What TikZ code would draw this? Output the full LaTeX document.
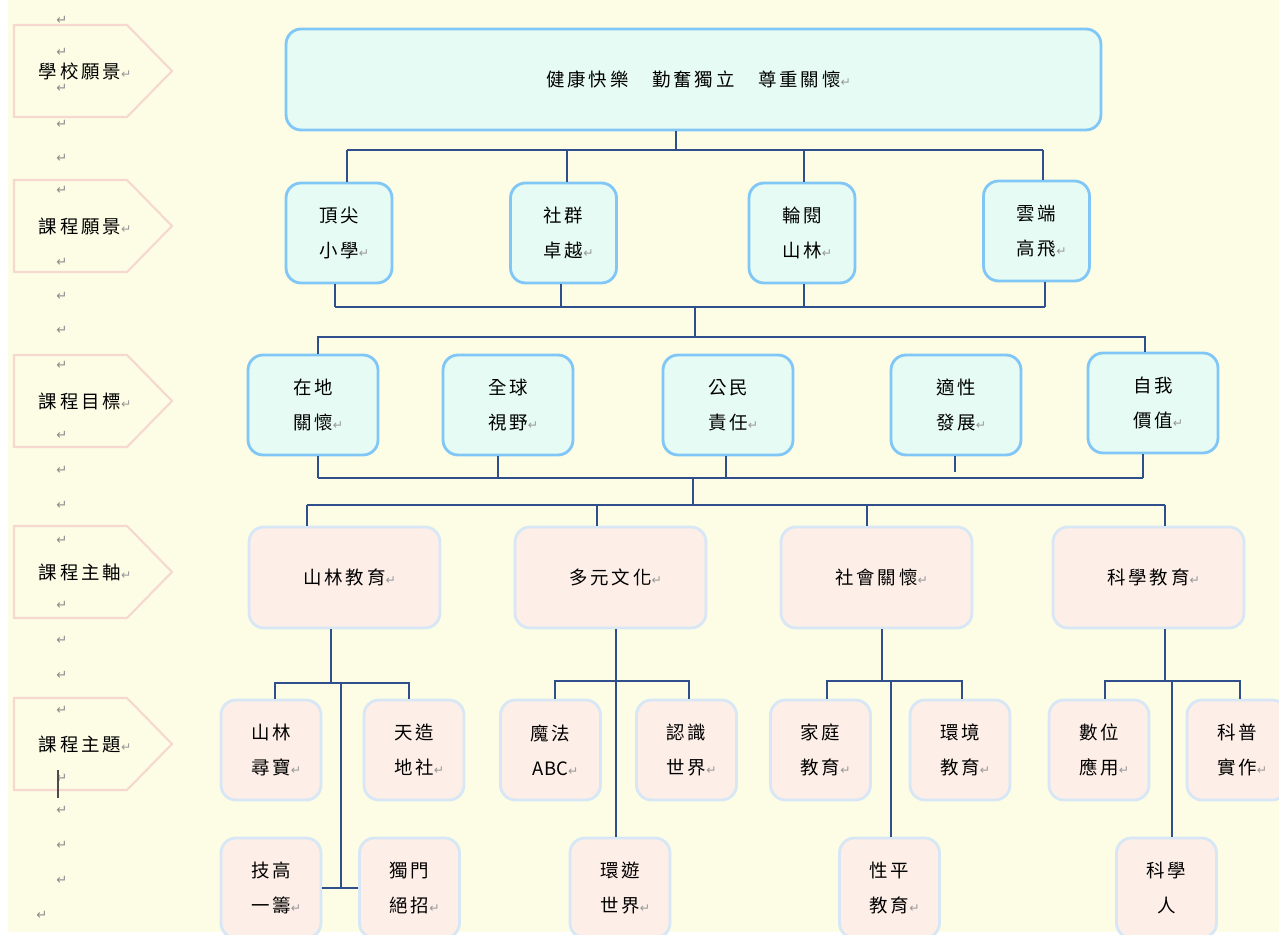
\documentclass[tikz,border=0pt]{standalone}
\usepackage{fontspec}
\usepackage{tikz}
\usetikzlibrary{positioning}
\newfontfamily\cjk[LetterSpace=15]{Noto Sans CJK TC}
\newfontfamily\cjkplain{Noto Sans CJK TC}
\newfontfamily\symfont{DejaVu Sans}
\definecolor{paper}{HTML}{FCFDE4}
\definecolor{linkblue}{HTML}{2F4F8C}
\definecolor{skyedge}{HTML}{80C6F6}
\definecolor{mintfill}{HTML}{E6FBF3}
\definecolor{paleedge}{HTML}{D8E7F6}
\definecolor{pinkfill}{HTML}{FDEEE7}
\definecolor{stageedge}{HTML}{F6D8D0}
\newcommand\pmark{\rlap{\symfont\fontsize{7}{7}\selectfont\color{gray!80}↵}}
\tikzset{
  goal/.style={draw=skyedge, fill=mintfill, line width=1.6pt, rounded corners=0.3cm,
    align=center, font=\cjk\fontsize{10.5}{20}\selectfont},
  theme/.style={draw=paleedge, fill=pinkfill, line width=1.6pt, rounded corners=0.3cm,
    align=center, font=\cjk\fontsize{10.5}{20}\selectfont},
  vbox/.style={goal, minimum width=2.12cm, minimum height=2cm},
  obox/.style={goal, minimum width=2.6cm, minimum height=2cm},
  abox/.style={theme, minimum width=3.82cm, minimum height=2.02cm},
  tbox/.style={theme, minimum width=2cm, minimum height=2cm},
  stage/.style={draw=stageedge, line width=1.2pt},
  stagetext/.style={font=\cjk\fontsize{10.5}{20}\selectfont, inner sep=0pt},
  parmark/.style={font=\symfont\fontsize{7.5}{7.5}\selectfont, text=gray!90, inner sep=0pt},
  link/.style={draw=linkblue, line width=1pt},
}
\begin{document}
\begin{tikzpicture}[x=0.02cm,y=-0.02cm]
\clip (0,0) rectangle (1279,935);
\fill[white] (0,0) rectangle (1279,935);
\fill[paper] (8,0) rectangle (1279,932);

% left column
\foreach \y/\lbl [count=\i] in {25/學校願景,180/課程願景,355/課程目標,526/課程主軸,698/課程主題}{
  \draw[stage] (14,\y) -- ++(113,0) -- ++(45,46) -- ++(-45,46) -- ++(-113,0) -- cycle;
  \node[stagetext] (stage\i) at (80,\y+46) {\lbl\pmark};
}
\foreach \y [count=\k] in {20,52,88,124,158,190,262,296,330,365,435,470,505,540,605,640,675,710,778,810,845,880}
  \node[parmark] (pm\k) at (62,\y) {↵};
\node[parmark] (pmlast) at (42,915) {↵};
\draw[black!70, line width=0.6pt] (58,770) -- (58,798);

% school vision
\node[goal, minimum width=16.3cm, minimum height=2.02cm] (vision) at (693.5,79.5)
  {健康快樂　勤奮獨立　尊重關懷\pmark};

% course visions
\node[vbox] (v1) at (339,233) {頂尖\\小學\pmark};
\node[vbox] (v2) at (563.5,233) {社群\\卓越\pmark};
\node[vbox] (v3) at (802,233) {輪閱\\山林\pmark};
\node[vbox] (v4) at (1036.5,231) {雲端\\高飛\pmark};

% course goals
\node[obox] (g1) at (313,405) {在地\\關懷\pmark};
\node[obox] (g2) at (508,405) {全球\\視野\pmark};
\node[obox] (g3) at (728,405) {公民\\責任\pmark};
\node[obox] (g4) at (956,405) {適性\\發展\pmark};
\node[obox] (g5) at (1153,403) {自我\\價值\pmark};

% course axes
\node[abox] (a1) at (344.5,577.5) {山林教育\pmark};
\node[abox] (a2) at (610.5,577.5) {多元文化\pmark};
\node[abox] (a3) at (876.5,577.5) {社會關懷\pmark};
\node[abox] (a4) at (1148.5,577.5) {科學教育\pmark};

% course themes
\node[tbox] (m1) at (271,750) {山林\\尋寶\pmark};
\node[tbox] (m2) at (414,750) {天造\\地社\pmark};
\node[tbox] (m3) at (271,888) {技高\\一籌\pmark};
\node[tbox] (m4) at (409.5,888) {獨門\\絕招\pmark};
\node[tbox] (c1) at (550.5,750) {魔法\\{\cjkplain ABC}\pmark};
\node[tbox] (c2) at (686.5,750) {認識\\世界\pmark};
\node[tbox] (c3) at (620,888) {環遊\\世界\pmark};
\node[tbox] (h1) at (820.5,750) {家庭\\教育\pmark};
\node[tbox] (h2) at (960,750) {環境\\教育\pmark};
\node[tbox] (h3) at (889.5,888) {性平\\教育\pmark};
\node[tbox] (k1) at (1099,750) {數位\\應用\pmark};
\node[tbox] (k2) at (1237,750) {科普\\實作\pmark};
\node[tbox] (k3) at (1166.5,888) {科學\\人};

% vision -> course visions
\path (676,150) coordinate (p0) (347,150) coordinate (p1) (567,150) coordinate (p2)
      (804,150) coordinate (p3) (1043,150) coordinate (p4);
\draw[link] (p0 |- vision.south) -- (p0);
\draw[link] (p1) -- (p4);
\foreach \i in {1,...,4}
  \draw[link] (p\i) -- (p\i |- v\i.north);

% course visions -> goals
\path (695,307) coordinate (q0) (335,307) coordinate (q1) (561,307) coordinate (q2)
      (804,307) coordinate (q3) (1045,307) coordinate (q4);
\draw[link] (q1) -- (q4);
\foreach \i in {1,...,4}
  \draw[link] (q\i) -- (q\i |- v\i.south);
\path (695,337) coordinate (r0) (318,337) coordinate (r1) (1145,337) coordinate (r5);
\draw[link] (q0) -- (r0);
\draw[link] (r1 |- g1.north) -- (r1) -- (r5) -- (r5 |- g5.north);

% goals -> axes
\path (693,478) coordinate (s0) (318,478) coordinate (s1) (498,478) coordinate (s2)
      (726,478) coordinate (s3) (955,472) coordinate (s4) (1143,478) coordinate (s5);
\draw[link] (s1) -- (s5);
\foreach \i in {1,...,5}
  \draw[link] (s\i) -- (s\i |- g\i.south);
\path (693,505) coordinate (t0) (307,505) coordinate (t1) (597,505) coordinate (t2)
      (867,505) coordinate (t3) (1165,505) coordinate (t4);
\draw[link] (s0) -- (t0);
\draw[link] (t1) -- (t4);
\foreach \i in {1,...,4}
  \draw[link] (t\i) -- (t\i |- a\i.north);

% axes -> themes
\path (331,683) coordinate (m0) (275,683) coordinate (mL) (409,683) coordinate (mR) (341,683) coordinate (mC);
\draw[link] (m0 |- a1.south) -- (m0);
\draw[link] (mL |- m1.north) -- (mL) -- (mR) -- (mR |- m2.north);
\draw[link] (mC) -- (mC |- m3.east);
\draw[link] (m3.east) -- (m4.west);

\path (616,681) coordinate (c0) (555,681) coordinate (cL) (689,681) coordinate (cR);
\draw[link] (c0 |- a2.south) -- (c0 |- c3.north);
\draw[link] (cL |- c1.north) -- (cL) -- (cR) -- (cR |- c2.north);

\path (882,681) coordinate (h0) (827,681) coordinate (hL) (962,681) coordinate (hR) (891,681) coordinate (hC);
\draw[link] (h0 |- a3.south) -- (h0);
\draw[link] (hL |- h1.north) -- (hL) -- (hR) -- (hR |- h2.north);
\draw[link] (hC) -- (hC |- h3.north);

\path (1165,681) coordinate (k0) (1105,681) coordinate (kL) (1240,681) coordinate (kR) (1172,681) coordinate (kC);
\draw[link] (k0 |- a4.south) -- (k0);
\draw[link] (kL |- k1.north) -- (kL) -- (kR) -- (kR |- k2.north);
\draw[link] (kC) -- (kC |- k3.north);
\end{tikzpicture}
\end{document}
